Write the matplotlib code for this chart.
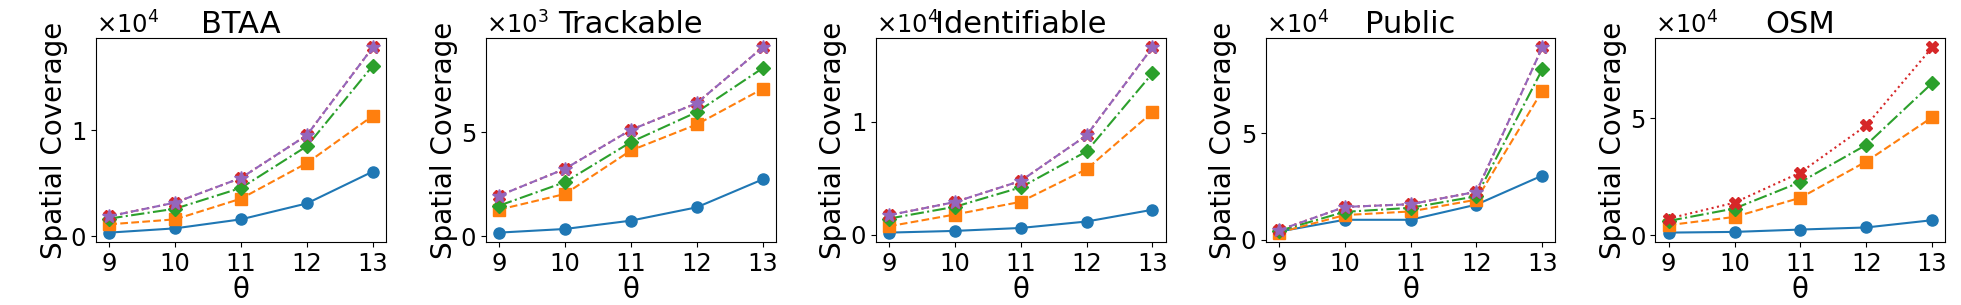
import numpy as np
import matplotlib
matplotlib.use("Agg")
import matplotlib.pyplot as plt
from matplotlib.ticker import MaxNLocator

theta = [9, 10, 11, 12, 13]
titles = ["BTAA", "Trackable", "Identifiable", "Public", "OSM"]

# series per panel: blue, orange, green, red, purple
btaa_blue = [350, 750, 1600, 3100, 6100]
btaa_orange = [1130, 1600, 3550, 6900, 11350]
btaa_green = [1670, 2600, 4560, 8490, 16070]
btaa_red = [1890, 3180, 5500, 9530, 17800]
btaa_purple = [1890, 3180, 5500, 9530, 17800]

track_blue = [176, 350, 750, 1390, 2730]
track_orange = [1280, 2030, 4120, 5370, 7080]
track_green = [1470, 2600, 4520, 5960, 8070]
track_red = [1950, 3240, 5110, 6390, 9070]
track_purple = [1950, 3240, 5110, 6390, 9070]

ident_blue = [180, 330, 590, 1160, 2200]
ident_orange = [740, 1780, 2900, 5790, 10830]
ident_green = [1420, 2460, 4180, 7360, 14270]
ident_red = [1720, 2880, 4750, 8780, 16560]
ident_purple = [1720, 2880, 4750, 8780, 16560]

public_blue = [3860, 9400, 9400, 16500, 30100]
public_orange = [3400, 11600, 13300, 18800, 69800]
public_green = [4200, 13100, 15000, 20400, 79800]
public_red = [4500, 15400, 16700, 22500, 90100]
public_purple = [4500, 15400, 16700, 22500, 90100]

osm_blue = [1100, 1400, 2400, 3300, 6400]
osm_orange = [4300, 7800, 16000, 31500, 50400]
osm_green = [6100, 11400, 22700, 38600, 65000]
osm_red = [7100, 13900, 26800, 46900, 80300]
osm_purple = None

panels = [
    [btaa_blue, btaa_orange, btaa_green, btaa_red, btaa_purple],
    [track_blue, track_orange, track_green, track_red, track_purple],
    [ident_blue, ident_orange, ident_green, ident_red, ident_purple],
    [public_blue, public_orange, public_green, public_red, public_purple],
    [osm_blue, osm_orange, osm_green, osm_red, osm_purple],
]

styles = [
    dict(color="#1f77b4", marker="o", linestyle="-"),
    dict(color="#ff7f0e", marker="s", linestyle="--"),
    dict(color="#2ca02c", marker="D", linestyle="-."),
    dict(color="#d62728", marker="X", linestyle=":"),
    dict(color="#9467bd", marker="*", linestyle="--"),
]
msizes = [8, 8, 7, 8, 10]

fig, axes = plt.subplots(1, 5, figsize=(19.61, 3.05), dpi=100)
fig.subplots_adjust(left=0.049, right=0.992, top=0.875, bottom=0.207, wspace=0.345)

for ax, title, series in zip(axes, titles, panels):
    for s, st, ms in zip(series, styles, msizes):
        if s is None:
            continue
        ax.plot(theta, s, markersize=ms, linewidth=1.5, **st)
    ax.set_title(title, fontsize=22, y=1.0, pad=4)
    ax.set_xlabel("θ", fontsize=20, labelpad=0)
    ax.set_ylabel("Spatial Coverage", fontsize=20, labelpad=2)
    ax.set_xticks(theta)
    ax.tick_params(labelsize=17.5)
    ax.yaxis.set_major_locator(MaxNLocator(2))
    ax.ticklabel_format(style="sci", axis="y", scilimits=(0, 0), useMathText=True)
    ax.yaxis.get_offset_text().set_fontsize(17.5)

fig.savefig("out.png", dpi=100)
